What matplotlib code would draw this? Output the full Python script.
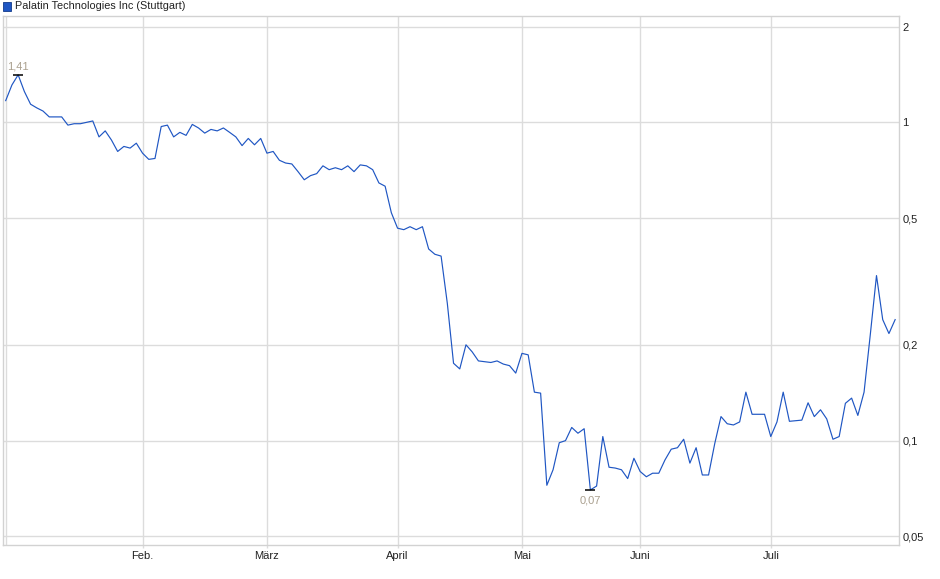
import matplotlib
matplotlib.use("Agg")
import matplotlib.pyplot as plt
from matplotlib.patches import Rectangle
from matplotlib.ticker import FixedLocator, FixedFormatter, NullLocator
import numpy as np

title = "Palatin Technologies Inc (Stuttgart)"

# daily closing prices (EUR), trading-day order, Jan 2 .. Jul 29
prices = [
    1.17, 1.31, 1.41, 1.25, 1.14, 1.11, 1.085, 1.04, 1.04, 1.04,
    0.98, 0.99, 0.99, 1.00, 1.01, 0.90, 0.94, 0.88, 0.81, 0.84,
    0.83, 0.86, 0.80, 0.765, 0.77, 0.97, 0.98, 0.90, 0.93, 0.91,
    0.985, 0.96, 0.925, 0.95, 0.94, 0.96, 0.93, 0.90, 0.845, 0.89,
    0.85, 0.89, 0.80, 0.81, 0.76, 0.745, 0.74, 0.70, 0.66, 0.68,
    0.69, 0.73, 0.71, 0.72, 0.71, 0.73, 0.70, 0.735, 0.73, 0.71,
    0.645, 0.63, 0.52, 0.465, 0.46, 0.47, 0.46, 0.47, 0.40, 0.385,
    0.38, 0.27, 0.175, 0.168, 0.20, 0.19, 0.178, 0.177, 0.176, 0.178,
    0.174, 0.172, 0.163, 0.188, 0.186, 0.142, 0.141, 0.0724, 0.081, 0.0985,
    0.100, 0.110, 0.1055, 0.109, 0.070, 0.072, 0.103, 0.0825, 0.082, 0.081,
    0.076, 0.088, 0.080, 0.077, 0.079, 0.079, 0.087, 0.094, 0.095, 0.101,
    0.085, 0.095, 0.078, 0.078, 0.098, 0.119, 0.113, 0.112, 0.1145, 0.142,
    0.121, 0.121, 0.121, 0.103, 0.1145, 0.142, 0.115, 0.1155, 0.116, 0.1315,
    0.119, 0.125, 0.117, 0.101, 0.103, 0.131, 0.136, 0.120, 0.142, 0.215,
    0.33, 0.24, 0.217, 0.24,
]

# first trading day of each month (index into prices)
month_idx = [22, 42, 63, 83, 102, 123]
month_labels = ["Feb.", "März", "April", "Mai", "Juni", "Juli"]

y_ticks = [0.05, 0.1, 0.2, 0.5, 1, 2]
y_labels = ["0,05", "0,1", "0,2", "0,5", "1", "2"]

line_color = "#1f56c3"
grid_color = "#dcdcdc"
frame_color = "#d2d2d2"
note_color = "#aaa08f"
font = "Liberation Sans"

fig = plt.figure(figsize=(9.4, 5.79), dpi=100)
W, H = 940, 579
ax = fig.add_axes([3 / W, 34 / H, 895.7 / W, 529 / H])

x = np.arange(len(prices))
ax.plot(x, prices, color=line_color, lw=0.85, zorder=3)

ax.set_yscale("log")
ax.set_xlim(-0.434, 143.57)
ax.set_ylim(0.0470, 2.158)

ax.yaxis.set_major_locator(FixedLocator(y_ticks))
ax.yaxis.set_major_formatter(FixedFormatter(y_labels))
ax.yaxis.set_minor_locator(NullLocator())
ax.yaxis.tick_right()
ax.tick_params(axis="y", length=0, pad=2.5, labelsize=8, labelcolor="#222222")

ax.set_xticks(month_idx)
ax.set_xticklabels(month_labels)
ax.xaxis.set_minor_locator(NullLocator())
ax.tick_params(axis="x", length=2, width=1, color=grid_color, pad=2,
               labelsize=8, labelcolor="#222222")

for lbl in ax.get_xticklabels() + ax.get_yticklabels():
    lbl.set_fontfamily(font)

for v in y_ticks:
    ax.axhline(v, color=grid_color, lw=1, zorder=1)
for i in [0] + month_idx:
    ax.axvline(i, color=grid_color, lw=1, zorder=1)

for s in ax.spines.values():
    s.set_color(frame_color)
    s.set_linewidth(1)

# max / min annotations
imax = int(np.argmax(prices))
imin = int(np.argmin(prices))
for idx, dy in [(imax, 8.5), (imin, -10.5)]:
    v = prices[idx]
    ax.plot([idx], [v], marker="_", ms=6.5, mew=1.1, color="black", zorder=4)
    ax.annotate(f"{v:.2f}".replace(".", ","), xy=(idx, v), xytext=(0, dy),
                textcoords="offset pixels", ha="center", va="center",
                fontsize=8, color=note_color, fontfamily=font)

# title with legend square
fig.patches.append(Rectangle((3 / W, 1 - 10.5 / H), 8 / W, 8.5 / H,
                             transform=fig.transFigure, facecolor=line_color,
                             edgecolor="#123a8a", lw=0.6))
fig.text(15 / W, 1 - 6.3 / H, title, fontsize=7.8, fontfamily=font,
         color="#222222", va="center", ha="left")

fig.savefig("out.png", dpi=100)
